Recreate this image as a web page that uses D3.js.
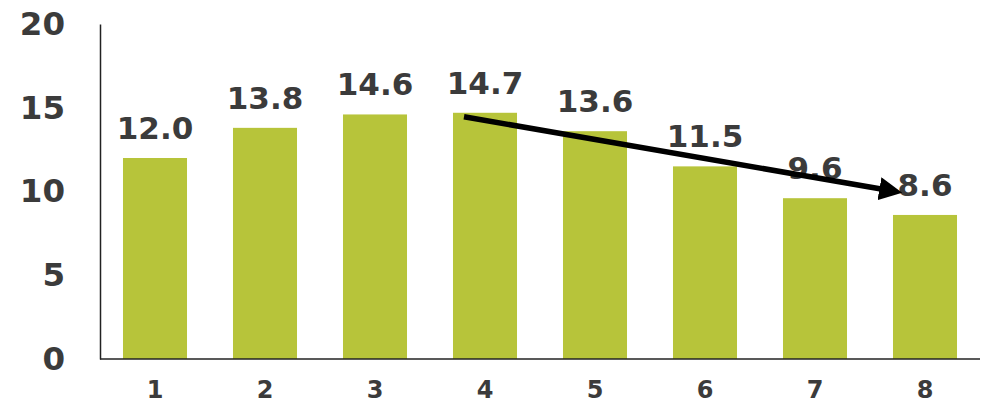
<!DOCTYPE html>
<html><head><meta charset="utf-8">
<script src="https://cdn.jsdelivr.net/npm/d3@7"></script>
<style>html,body{margin:0;padding:0;background:#fff;}svg{display:block;}</style>
</head><body>
<svg id="chart" width="984" height="404"></svg>
<script>
const categories = ["1","2","3","4","5","6","7","8"];
const values = [12.0, 13.8, 14.6, 14.7, 13.6, 11.5, 9.6, 8.6];
const yTicks = [0, 5, 10, 15, 20];
const trendFrom = "4", trendTo = "8";

(function(){
const svg = d3.select("#chart");
const mLeft = 100, mRight = 980, mTop = 24, mBottom = 359;
const font = "'DejaVu Sans', Verdana, sans-serif";
const textColor = "#3b3b3b";

const x = d3.scaleBand().domain(categories).range([mLeft, mRight]).paddingInner(0.418).paddingOuter(0.209);
const y = d3.scaleLinear().domain([0, 20]).range([mBottom, mTop]);

// bars
svg.selectAll("rect.bar").data(values).join("rect")
  .attr("class","bar")
  .attr("x", (d,i)=>x(categories[i]))
  .attr("width", x.bandwidth())
  .attr("y", d=>y(d))
  .attr("height", d=>y(0)-y(d))
  .attr("fill", "#b7c43a");

// y axis
const yAxis = d3.axisLeft(y).tickValues(yTicks).tickSize(0).tickPadding(35).tickFormat(d3.format("d"));
const gy = svg.append("g").attr("transform", `translate(${mLeft},0)`).call(yAxis);
gy.select(".domain").attr("stroke","#222").attr("stroke-width",1.5);
gy.selectAll("text").attr("font-family",font).attr("font-weight","bold").attr("font-size",32.5).attr("fill",textColor);

// x axis
const xAxis = d3.axisBottom(x).tickSize(0).tickPadding(24);
const gx = svg.append("g").attr("transform", `translate(0,${mBottom})`).call(xAxis);
gx.select(".domain").attr("stroke","#222").attr("stroke-width",1.5).attr("d", `M${mLeft},0H${mRight}`);
gx.selectAll("text").attr("font-family",font).attr("font-weight","bold").attr("font-size",24)
  .attr("fill",textColor).attr("dy",null).attr("y",39);

// value labels
svg.selectAll("text.val").data(values).join("text")
  .attr("class","val")
  .attr("x",(d,i)=>x(categories[i]) + x.bandwidth()/2)
  .attr("y", d=>y(d) - 19)
  .attr("text-anchor","middle")
  .attr("font-family",font).attr("font-weight","bold").attr("font-size",31)
  .attr("fill",textColor)
  .text(d=>d.toFixed(1));

// trend arrow
const i4 = categories.indexOf(trendFrom), i8 = categories.indexOf(trendTo);
const x1 = x(trendFrom) + 11, y1 = y(values[i4]) + 4;
const x2 = x(trendTo) + 5, y2 = y(values[i8]) - 23;
svg.append("defs").append("marker")
  .attr("id","ah").attr("viewBox","0 0 10 10").attr("refX",2).attr("refY",5)
  .attr("markerWidth",4.2).attr("markerHeight",4.2).attr("orient","auto")
  .attr("markerUnits","strokeWidth")
  .append("path").attr("d","M0,0L10,5L0,10Z").attr("fill","#000");
svg.append("line")
  .attr("x1",x1).attr("y1",y1).attr("x2",x2-14).attr("y2",y2 - 14*(y2-y1)/(x2-x1))
  .attr("stroke","#000").attr("stroke-width",5.5).attr("marker-end","url(#ah)");
})();
</script>
</body></html>
